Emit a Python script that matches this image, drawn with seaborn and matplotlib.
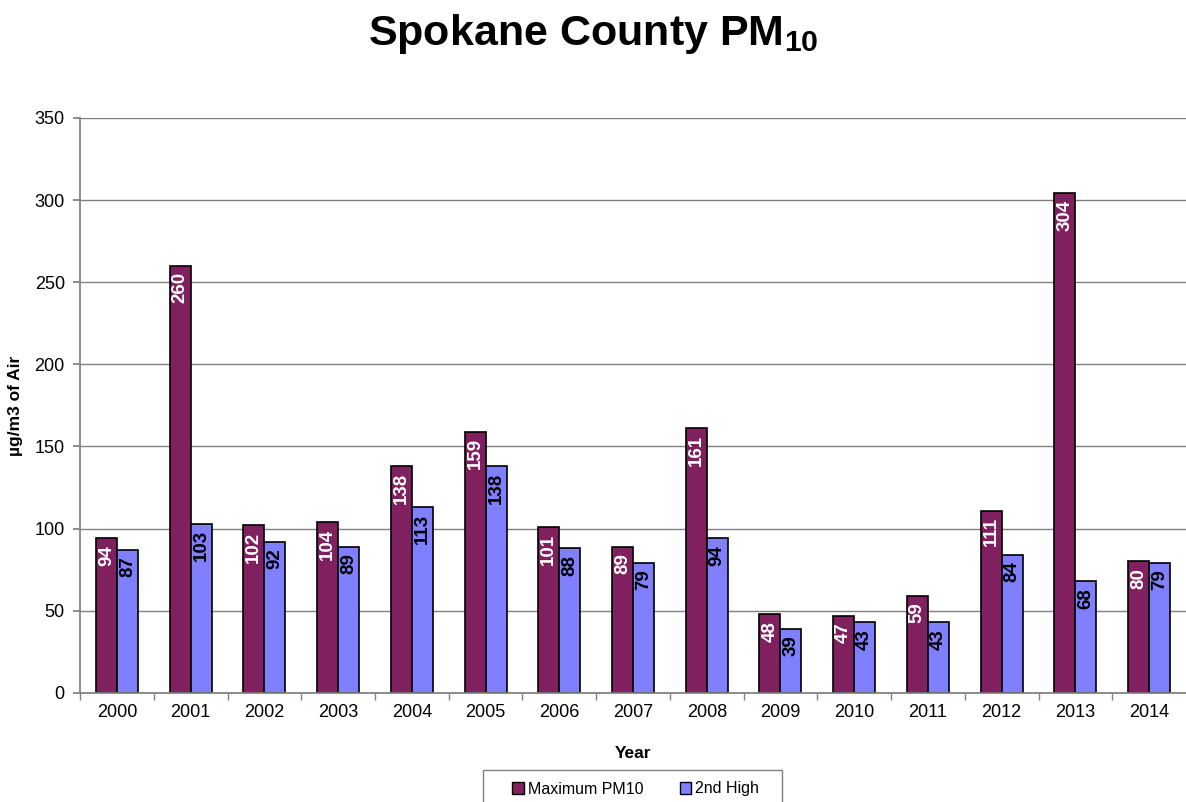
"""Spokane County PM10 bar chart."""

import matplotlib
matplotlib.use("Agg")
import matplotlib.pyplot as plt
import seaborn as sns
import pandas as pd
import numpy as np

# Data
years = ["2000", "2001", "2002", "2003", "2004", "2005", "2006", "2007",
         "2008", "2009", "2010", "2011", "2012", "2013", "2014"]
max_pm10 = [94, 260, 102, 104, 138, 159, 101, 89, 161, 48, 47, 59, 111, 304, 80]
second_high = [87, 103, 92, 89, 113, 138, 88, 79, 94, 39, 43, 43, 84, 68, 79]
series_names = ["Maximum PM10", "2nd High"]

MAROON = "#80205F"
PERIWINKLE = "#8080FF"

sns.set_theme(style="white")
plt.rcParams["font.family"] = ["Liberation Sans", "DejaVu Sans"]
plt.rcParams.update({
    "text.color": "black",
    "axes.labelcolor": "black",
    "xtick.labelcolor": "black",
    "ytick.labelcolor": "black",
    "mathtext.fontset": "custom",
    "mathtext.rm": "Liberation Sans:bold",
    "mathtext.bf": "Liberation Sans:bold",
})

df = pd.DataFrame({
    "Year": years * 2,
    "value": max_pm10 + second_high,
    "series": [series_names[0]] * len(years) + [series_names[1]] * len(years),
})

fig = plt.figure(figsize=(11.86, 8.02), dpi=100)
ax = fig.add_axes([0.0675, 0.136, 0.9325, 0.717])

sns.barplot(data=df, x="Year", y="value", hue="series", order=years,
            hue_order=series_names, palette=[MAROON, PERIWINKLE],
            width=0.57, edgecolor="black", linewidth=1.2, saturation=1,
            legend=False, ax=ax)

# value labels inside bars
for cont, txt_color in zip(ax.containers, ["white", "black"]):
    for rect in cont:
        h = rect.get_height()
        ax.text(rect.get_x() + rect.get_width() / 2, h - 4, f"{h:.0f}",
                rotation=90, ha="center", va="top", color=txt_color,
                fontsize=13.5, fontweight="bold")

ax.set_ylim(0, 350)
ax.set_xlim(-0.5, len(years) - 0.5)
ax.set_yticks(np.arange(0, 351, 50))
ax.yaxis.grid(True, color="#808080", linewidth=1)
ax.set_axisbelow(True)
for side in ["top", "right"]:
    ax.spines[side].set_visible(False)
ax.spines["left"].set_color("#808080")
ax.spines["bottom"].set_color("#808080")

ax.tick_params(axis="y", which="major", direction="out", length=5,
               color="#808080", labelsize=13, left=True, pad=6)
ax.tick_params(axis="x", which="major", length=0, labelsize=13, pad=8)
ax.set_xticks(np.arange(-0.5, len(years) - 0.5), minor=True)
ax.tick_params(axis="x", which="minor", direction="out", length=5,
               color="#808080", bottom=True)

ax.set_xlabel("Year", fontsize=12.5, fontweight="bold", labelpad=18)
ax.set_ylabel("µg/m3 of Air", fontsize=12.5, fontweight="bold", labelpad=8)

fig.suptitle("Spokane County PM$_{\\mathbf{10}}$", fontsize=31,
             fontweight="bold", y=0.985)

# legend box (runs off the bottom edge like the original)
fig.patches.append(plt.Rectangle((483 / 1186, -0.02), 299 / 1186, 0.02 + 32 / 802,
                                 transform=fig.transFigure, fill=False,
                                 edgecolor="#808080", linewidth=1))
handles = [plt.Rectangle((0, 0), 1, 1, facecolor=c, edgecolor="black",
                         linewidth=1) for c in [MAROON, PERIWINKLE]]
leg = fig.legend(handles, series_names, loc="center",
                 bbox_to_anchor=(0.536, 1 - 789 / 802), ncol=2, fontsize=11.5,
                 frameon=False, handlelength=0.7, handleheight=0.7,
                 handletextpad=0.25, columnspacing=2.3, borderpad=0,
                 borderaxespad=0)

fig.savefig("out.png", dpi=100, facecolor="white")
